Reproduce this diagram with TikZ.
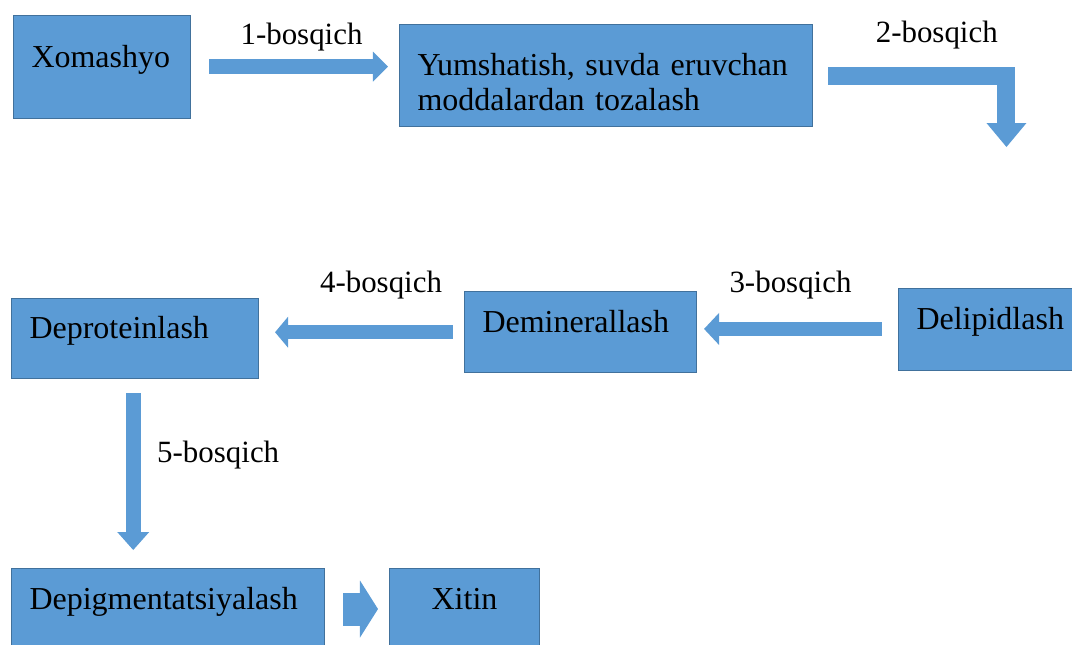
\documentclass[tikz,border=0pt]{standalone}
\usepackage{fontspec}
\setmainfont{Liberation Serif}
\usetikzlibrary{arrows.meta,positioning}

\definecolor{boxfill}{RGB}{91,155,213}
\definecolor{boxline}{RGB}{65,113,156}

\begin{document}
\begin{tikzpicture}[scale=0.2]
\tikzset{
  box/.style={draw=boxline, line width=0.6pt, fill=boxfill, anchor=north west,
    inner xsep=0.36cm, inner ysep=0pt, align=left,
    text height=0.44cm, text depth=0.44cm,
    font=\fontsize{18.2}{20}\selectfont},
  lbl/.style={inner sep=0pt, font=\fontsize{17.6}{20}\selectfont},
  flow/.style n args={3}{draw=boxfill, line width=#1,
    -{Triangle[width=#2 0, length=#3 0, line width=0pt 0 0]}}
}
\useasboundingbox (0,0) rectangle (107.2,-64.4);
% boxes
\node[box, minimum height=2.06cm, text width=2.82cm] (xom) at (1.3,-1.5) {Xomashyo};
\node[box, minimum height=2.04cm, text width=7.54cm] (yum) at (39.9,-2.4) {Yumshatish, suvda eruvchan\\moddalardan tozalash};
\node[box, minimum height=1.64cm, text width=2.94cm] (deli) at (89.8,-28.8) {Delipidlash};
\node[box, minimum height=1.62cm, text width=3.92cm] (demin) at (46.4,-29.1) {Deminerallash};
\node[box, minimum height=1.6cm, text width=4.22cm] (deprot) at (1.1,-29.8) {Deproteinlash};
\node[box, minimum height=1.62cm, text width=5.54cm] (depig) at (1.1,-56.8) {Depigmentatsiyalash};
\node[box, minimum height=1.62cm, text width=2.28cm, align=center] (xitin) at (38.9,-56.8) {Xitin};
\coordinate (c2) at (100.65,-14.7);
% steps
\draw[flow={0.3cm}{0.6cm}{0.3cm}, shorten <=0.36cm, shorten >=0.22cm]
  ([yshift=0.04cm]xom.east) -- ([yshift=0.04cm]xom.east -| yum.west)
  node[lbl, midway, above=0.16cm, xshift=0.13cm] {1-bosqich};
\draw[flow={0.36cm}{0.8cm}{0.48cm}, shorten <=0.3cm]
  (yum.east) -| (c2)
  node[lbl, pos=0.25, above=0.34cm, xshift=0.54cm] {2-bosqich};
\draw[flow={0.28cm}{0.64cm}{0.3cm}, shorten <=0.32cm, shorten >=0.14cm]
  ([yshift=0.06cm]deli.west) -- ([yshift=0.06cm]deli.west -| demin.east)
  node[lbl, midway, above=0.46cm, xshift=-0.14cm] {3-bosqich};
\draw[flow={0.28cm}{0.62cm}{0.26cm}, shorten <=0.22cm, shorten >=0.32cm]
  ([yshift=-0.02cm]demin.west) -- ([yshift=-0.02cm]demin.west -| deprot.east)
  node[lbl, midway, above=0.53cm, xshift=0.39cm] {4-bosqich};
\draw[flow={0.3cm}{0.64cm}{0.36cm}, shorten <=0.28cm, shorten >=0.36cm]
  ([xshift=-0.18cm]deprot.south) -- ([xshift=-0.18cm]deprot.south |- depig.north)
  node[lbl, pos=0.4, right=0.33cm] {5-bosqich};
\draw[flow={0.66cm}{1.14cm}{0.36cm}, shorten <=0.36cm, shorten >=0.22cm]
  (depig.east) -- (depig.east -| xitin.west);
\end{tikzpicture}
\end{document}
